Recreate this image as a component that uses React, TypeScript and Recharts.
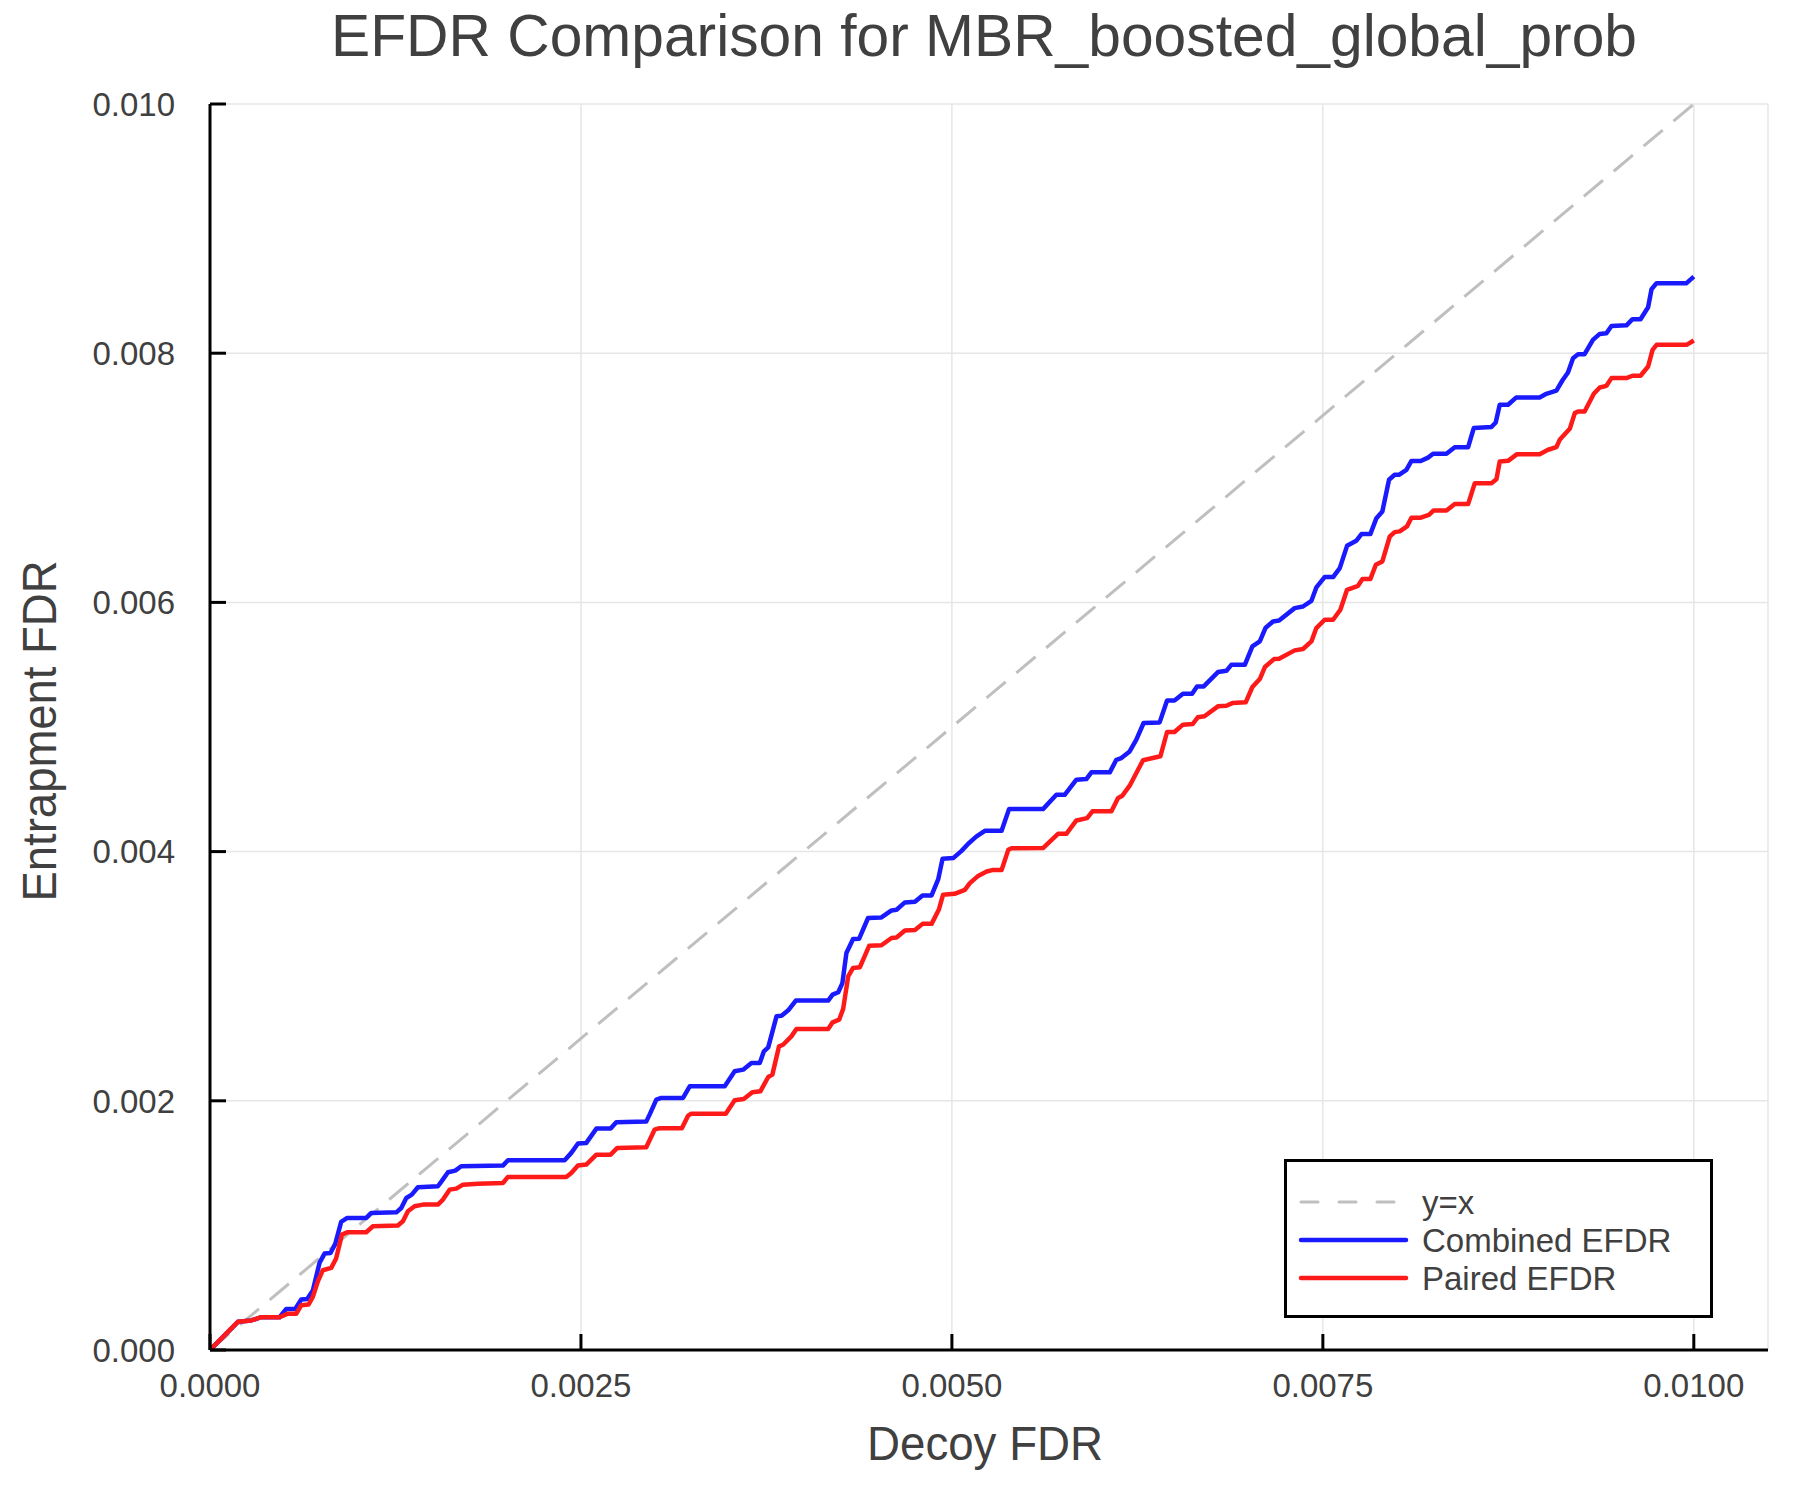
import { LineChart, Line, XAxis, YAxis, CartesianGrid } from "recharts";

const xTicks = [0, 0.0025, 0.005, 0.0075, 0.01];
const xTickLabels = ["0.0000", "0.0025", "0.0050", "0.0075", "0.0100"];
const yTicks = [0, 0.002, 0.004, 0.006, 0.008, 0.01];
const yTickLabels = ["0.000", "0.002", "0.004", "0.006", "0.008", "0.010"];

// [decoy FDR, entrapment FDR]
const identityPoints = [
  [0, 0],
  [0.01, 0.01],
];

const combinedPoints = [
  [0, 0], [0.000188, 0.000226], [0.000278, 0.000237], [0.000345, 0.000263],
  [0.000469, 0.000263], [0.000514, 0.00033], [0.000574, 0.00033], [0.000615, 0.000405],
  [0.000655, 0.00041], [0.000693, 0.000477], [0.000738, 0.000699], [0.000772, 0.000774],
  [0.000812, 0.000779], [0.000844, 0.000852], [0.000884, 0.001028], [0.000925, 0.00106],
  [0.001053, 0.00106], [0.001087, 0.0011], [0.001256, 0.001105], [0.001289, 0.00114],
  [0.001323, 0.00122], [0.00136, 0.001247], [0.001401, 0.001306], [0.001536, 0.001314],
  [0.001558, 0.001349], [0.001604, 0.001427], [0.001653, 0.00144], [0.001693, 0.001475],
  [0.001974, 0.00148], [0.002008, 0.001523], [0.00239, 0.001523], [0.002435, 0.001582],
  [0.00248, 0.001657], [0.002536, 0.001662], [0.002604, 0.001777], [0.0027, 0.001777],
  [0.002738, 0.001828], [0.00294, 0.001833], [0.002965, 0.001895], [0.003008, 0.002009],
  [0.003042, 0.002023], [0.003188, 0.002023], [0.003233, 0.002116], [0.003469, 0.002116],
  [0.003536, 0.002237], [0.003593, 0.00225], [0.003649, 0.002303], [0.003705, 0.002303],
  [0.003733, 0.002397], [0.003762, 0.002429], [0.003818, 0.002678], [0.003852, 0.002683],
  [0.003897, 0.002726], [0.003948, 0.002804], [0.004166, 0.002804], [0.004196, 0.002852],
  [0.004234, 0.002871], [0.004262, 0.002945], [0.004289, 0.003186], [0.004334, 0.003298],
  [0.004375, 0.003301], [0.004435, 0.003467], [0.004525, 0.003472], [0.004593, 0.003528],
  [0.004627, 0.003533], [0.004683, 0.003592], [0.004751, 0.003597], [0.004802, 0.003648],
  [0.004863, 0.003648], [0.004908, 0.003779], [0.004937, 0.003942], [0.005009, 0.003948],
  [0.005065, 0.004006], [0.00511, 0.004063], [0.005166, 0.004122], [0.005222, 0.004167],
  [0.005335, 0.004167], [0.005385, 0.004341], [0.005614, 0.004341], [0.005704, 0.004456],
  [0.00576, 0.004456], [0.005839, 0.004577], [0.005906, 0.004582], [0.00594, 0.004636],
  [0.006064, 0.004636], [0.006108, 0.004737], [0.006142, 0.004751], [0.006198, 0.004804],
  [0.006243, 0.004898], [0.006292, 0.005032], [0.0064, 0.005037], [0.00645, 0.005213],
  [0.0065, 0.005213], [0.006557, 0.005267], [0.006619, 0.005267], [0.006652, 0.005326],
  [0.006697, 0.005326], [0.006793, 0.005441], [0.00685, 0.005451], [0.006883, 0.005499],
  [0.006974, 0.005499], [0.007025, 0.005647], [0.007075, 0.005687], [0.007113, 0.005794],
  [0.007164, 0.005847], [0.007205, 0.005855], [0.00731, 0.005954], [0.007366, 0.005967],
  [0.007423, 0.006013], [0.007456, 0.00612], [0.007512, 0.006203], [0.007569, 0.006203],
  [0.007614, 0.006275], [0.007663, 0.006454], [0.007725, 0.006494], [0.00776, 0.006548],
  [0.00782, 0.006548], [0.007861, 0.006676], [0.007901, 0.00673], [0.007946, 0.006984],
  [0.007984, 0.007024], [0.008013, 0.007024], [0.008063, 0.007064], [0.008097, 0.007135],
  [0.00816, 0.007135], [0.008209, 0.007162], [0.008243, 0.007193], [0.008333, 0.007193],
  [0.008389, 0.007246], [0.008479, 0.007246], [0.008517, 0.007399], [0.008636, 0.007407],
  [0.008665, 0.007444], [0.008692, 0.007586], [0.008748, 0.007586], [0.008804, 0.007645],
  [0.008961, 0.007645], [0.009006, 0.007674], [0.009074, 0.0077], [0.009114, 0.007781],
  [0.009152, 0.007845], [0.009186, 0.00796], [0.00922, 0.007992], [0.009264, 0.007992],
  [0.00932, 0.008107], [0.009366, 0.008155], [0.009411, 0.00816], [0.009445, 0.008219],
  [0.009546, 0.008224], [0.009587, 0.008273], [0.009641, 0.008273], [0.009692, 0.008369],
  [0.009715, 0.008513], [0.009749, 0.008562], [0.009951, 0.008562], [0.01, 0.008615],
];

const pairedPoints = [
  [0, 0], [0.000188, 0.000226], [0.000278, 0.000237], [0.000345, 0.000263],
  [0.000469, 0.000263], [0.00052, 0.00029], [0.000581, 0.00029], [0.000615, 0.00036],
  [0.000664, 0.000365], [0.000693, 0.000426], [0.000727, 0.000552], [0.00076, 0.00064],
  [0.000817, 0.000659], [0.00085, 0.000734], [0.000889, 0.000926], [0.000925, 0.000945],
  [0.001053, 0.000945], [0.001098, 0.000993], [0.001266, 0.000999], [0.0013, 0.001033],
  [0.001334, 0.001114], [0.001379, 0.001154], [0.001435, 0.001167], [0.001536, 0.001167],
  [0.00157, 0.001207], [0.001615, 0.001287], [0.00166, 0.001295], [0.001705, 0.001327],
  [0.001806, 0.001334], [0.001974, 0.00134], [0.002008, 0.001389], [0.002401, 0.001389],
  [0.002435, 0.001421], [0.00248, 0.00148], [0.002536, 0.001488], [0.002604, 0.001568],
  [0.0027, 0.001568], [0.002745, 0.001622], [0.00294, 0.001627], [0.002996, 0.001768],
  [0.00303, 0.00178], [0.00318, 0.00178], [0.003222, 0.001881], [0.003244, 0.001897],
  [0.003476, 0.001897], [0.003536, 0.002004], [0.003597, 0.002015], [0.003655, 0.002068],
  [0.003709, 0.002076], [0.003762, 0.002191], [0.00379, 0.00221], [0.003835, 0.002437],
  [0.003862, 0.00245], [0.003918, 0.002517], [0.003952, 0.002576], [0.004166, 0.002576],
  [0.004196, 0.00263], [0.00424, 0.002651], [0.004267, 0.002737], [0.004301, 0.002999],
  [0.004334, 0.003066], [0.00438, 0.003072], [0.004443, 0.003245], [0.004525, 0.003248],
  [0.004593, 0.003307], [0.004627, 0.00331], [0.004683, 0.003366], [0.004751, 0.00337],
  [0.004802, 0.00342], [0.004863, 0.00342], [0.004913, 0.003538], [0.00494, 0.003653],
  [0.005018, 0.003661], [0.005087, 0.003693], [0.005121, 0.003747], [0.005177, 0.003805],
  [0.005234, 0.00384], [0.005279, 0.003853], [0.005335, 0.003853], [0.00538, 0.004014],
  [0.005402, 0.004027], [0.005614, 0.004028], [0.005715, 0.004143], [0.005771, 0.004143],
  [0.005839, 0.00425], [0.005911, 0.004269], [0.005947, 0.004323], [0.006075, 0.004323],
  [0.00612, 0.00443], [0.006149, 0.004449], [0.006198, 0.004529], [0.006243, 0.004631],
  [0.006288, 0.004733], [0.006405, 0.004765], [0.00645, 0.00496], [0.0065, 0.00496],
  [0.006557, 0.005019], [0.006623, 0.005024], [0.006657, 0.005078], [0.006702, 0.005086],
  [0.006793, 0.005166], [0.00685, 0.005171], [0.00689, 0.005192], [0.00698, 0.005198],
  [0.007025, 0.005321], [0.007075, 0.005385], [0.007109, 0.005481], [0.007171, 0.005545],
  [0.007205, 0.005548], [0.00731, 0.005615], [0.007366, 0.005626], [0.007423, 0.005687],
  [0.007456, 0.005794], [0.007512, 0.005861], [0.007569, 0.005861], [0.007618, 0.005941],
  [0.007663, 0.006101], [0.007737, 0.006133], [0.007766, 0.006187], [0.00782, 0.006187],
  [0.007857, 0.006302], [0.007901, 0.006329], [0.007951, 0.006529], [0.007984, 0.006564],
  [0.008018, 0.00657], [0.008067, 0.00661], [0.008097, 0.00668], [0.00816, 0.00668],
  [0.008215, 0.006703], [0.008245, 0.006737], [0.008333, 0.006737], [0.008389, 0.006789],
  [0.008479, 0.006789], [0.008524, 0.006957], [0.008636, 0.006957], [0.00867, 0.006989],
  [0.008692, 0.007131], [0.008748, 0.007136], [0.008809, 0.00719], [0.008961, 0.00719],
  [0.009018, 0.007225], [0.009074, 0.007246], [0.009096, 0.007305], [0.009164, 0.007393],
  [0.009198, 0.007519], [0.00922, 0.007532], [0.009264, 0.007532], [0.009326, 0.007674],
  [0.009366, 0.007725], [0.009411, 0.007738], [0.009445, 0.0078], [0.009546, 0.0078],
  [0.009587, 0.007819], [0.009641, 0.007819], [0.009692, 0.007893], [0.009722, 0.008027],
  [0.009749, 0.008067], [0.009951, 0.008067], [0.01, 0.008102],
];

const toRows = (pts: number[][]) => pts.map(([x, y]) => ({ x, y }));

const FONT = "'Liberation Sans', Arial, Helvetica, sans-serif";
const TEXT = "#404040";
const BLUE = "#1a1aff";
const RED = "#ff1a1a";
const GREY = "#bfbfbf";

const legendItems = [
  { label: "y=x", color: GREY, dash: "17 21", width: 3 },
  { label: "Combined EFDR", color: BLUE, dash: undefined, width: 4.5 },
  { label: "Paired EFDR", color: RED, dash: undefined, width: 4.5 },
];

export default function App() {
  const tickStyle = { fill: TEXT, fontSize: 33, fontFamily: FONT };
  const axisStroke = { stroke: "#000", strokeWidth: 3 };

  return (
    <div
      style={{
        position: "absolute",
        left: 0,
        top: 0,
        width: 1800,
        height: 1500,
        background: "#fff",
      }}
    >
      <LineChart
        width={1800}
        height={1500}
        margin={{ top: 104, right: 32, bottom: 0, left: 0 }}
      >
        <CartesianGrid stroke="#e6e6e6" strokeWidth={1.5} />
        <XAxis
          type="number"
          dataKey="x"
          domain={[0, 0.0105]}
          ticks={xTicks}
          interval={0}
          allowDataOverflow
          height={150}
          tickSize={-16}
          tickMargin={40}
          axisLine={axisStroke}
          tickLine={axisStroke}
          tick={tickStyle}
          tickFormatter={(v: number) => xTickLabels[xTicks.indexOf(v)]}
        />
        <YAxis
          type="number"
          domain={[0, 0.01]}
          ticks={yTicks}
          interval={0}
          allowDataOverflow
          width={210}
          tickSize={-16}
          tickMargin={51}
          axisLine={axisStroke}
          tickLine={axisStroke}
          tick={tickStyle}
          tickFormatter={(v: number) => yTickLabels[yTicks.indexOf(v)]}
        />
        <Line
          data={toRows(identityPoints)}
          dataKey="y"
          type="linear"
          stroke={GREY}
          strokeWidth={3}
          strokeDasharray="25 14"
          dot={false}
          activeDot={false}
          isAnimationActive={false}
        />
        <Line
          data={toRows(combinedPoints)}
          dataKey="y"
          type="linear"
          stroke={BLUE}
          strokeWidth={4.5}
          strokeLinejoin="round"
          dot={false}
          activeDot={false}
          isAnimationActive={false}
        />
        <Line
          data={toRows(pairedPoints)}
          dataKey="y"
          type="linear"
          stroke={RED}
          strokeWidth={4.5}
          strokeLinejoin="round"
          dot={false}
          activeDot={false}
          isAnimationActive={false}
        />
      </LineChart>

      <svg
        width={1800}
        height={1500}
        style={{ position: "absolute", left: 0, top: 0, pointerEvents: "none" }}
        fontFamily={FONT}
      >
        <text
          x={984}
          y={56}
          textAnchor="middle"
          fontSize={60}
          fill={TEXT}
          textLength={1306}
          lengthAdjust="spacingAndGlyphs"
        >
          EFDR Comparison for MBR_boosted_global_prob
        </text>
        <text
          x={985}
          y={1460}
          textAnchor="middle"
          fontSize={48}
          fill={TEXT}
          textLength={236}
          lengthAdjust="spacingAndGlyphs"
        >
          Decoy FDR
        </text>
        <text
          transform="translate(56,731) rotate(-90)"
          textAnchor="middle"
          fontSize={48}
          fill={TEXT}
          textLength={341}
          lengthAdjust="spacingAndGlyphs"
        >
          Entrapment FDR
        </text>

        <rect
          x={1285.5}
          y={1160.5}
          width={426}
          height={156}
          fill="#fff"
          stroke="#000"
          strokeWidth={3}
        />
        {legendItems.map((item, i) => {
          const cy = 1202 + i * 38;
          return (
            <g key={item.label}>
              <line
                x1={1301}
                x2={1406}
                y1={cy}
                y2={cy}
                stroke={item.color}
                strokeWidth={item.width}
                strokeDasharray={item.dash}
                strokeLinecap="round"
              />
              <text x={1422} y={cy + 12} fontSize={33} fill={TEXT}>
                {item.label}
              </text>
            </g>
          );
        })}
      </svg>
    </div>
  );
}
